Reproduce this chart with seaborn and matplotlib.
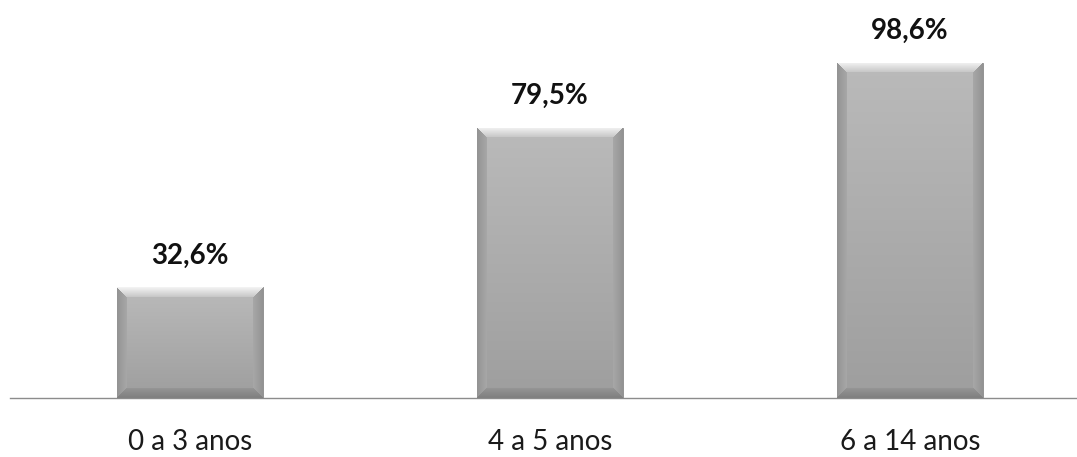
import numpy as np
import pandas as pd
import matplotlib
matplotlib.use("Agg")
import matplotlib.pyplot as plt
import seaborn as sns

categories = ["0 a 3 anos", "4 a 5 anos", "6 a 14 anos"]
values = [32.6, 79.5, 98.6]
labels = ["32,6%", "79,5%", "98,6%"]

sns.set_theme(style="white")
plt.rcParams['font.family'] = ['Lato', 'DejaVu Sans']

W, H = 1077, 457
fig = plt.figure(figsize=(W / 100, H / 100), dpi=100)
ax = fig.add_axes([10 / W, 59 / H, 1080 / W, 374 / H])

df = pd.DataFrame({"cat": categories, "val": values})
sns.barplot(data=df, x="cat", y="val", color="#a8a8a8", width=0.405,
            edgecolor="#8a8a8a", linewidth=0.6, ax=ax, saturation=1)
ax.set_ylim(0, 110)
ax.set_xlim(-0.5, 2.5)

# bevel shading clipped to each bar
fig.canvas.draw()
for p in ax.patches:
    x0, y0, w, h = p.get_x(), p.get_y(), p.get_width(), p.get_height()
    bb = p.get_window_extent()
    pw, ph = int(round(bb.width)), int(round(bb.height))
    yy, xx = np.mgrid[0:ph, 0:pw]
    t = yy / max(ph - 1, 1)
    img = 0.73 - 0.11 * t
    b = 10.0
    dtop = yy
    dbot = ph - 1 - yy
    dl = xx
    dr = pw - 1 - xx
    m = np.minimum.reduce([dtop, dbot, dl, dr])
    inb = m < b
    top_e = inb & (dtop == m)
    bot_e = inb & (dbot == m) & ~top_e
    side_e = inb & ~top_e & ~bot_e
    img = np.where(top_e, 0.95 - 0.18 * (dtop / b), img)
    img = np.where(bot_e, 0.50 + 0.09 * (dbot / b), img)
    img = np.where(side_e, 0.58 + 0.08 * (np.minimum(dl, dr) / b), img)
    rgb = np.dstack([img, img, img])
    im = ax.imshow(rgb, extent=(x0, x0 + w, y0, y0 + h), origin="upper",
                   aspect="auto", interpolation="bilinear", zorder=p.get_zorder() + 0.1)
    im.set_clip_path(p)
ax.set_xlim(-0.5, 2.5)
ax.set_ylim(0, 110)

for i, (v, lab) in enumerate(zip(values, labels)):
    ax.annotate(lab, (i, v), xytext=(0, 17), textcoords="offset points",
                ha="center", va="baseline", fontsize=20, fontweight="bold",
                color="#111111")

for s in ["top", "right", "left"]:
    ax.spines[s].set_visible(False)
ax.spines["bottom"].set_color("#8c8c8c")
ax.spines["bottom"].set_linewidth(1.0)
ax.set_yticks([])
ax.set_xlabel("")
ax.set_ylabel("")
ax.tick_params(axis="x", length=0, pad=22, labelsize=20, labelcolor="#1a1a1a")

fig.savefig("out.png", dpi=100)
